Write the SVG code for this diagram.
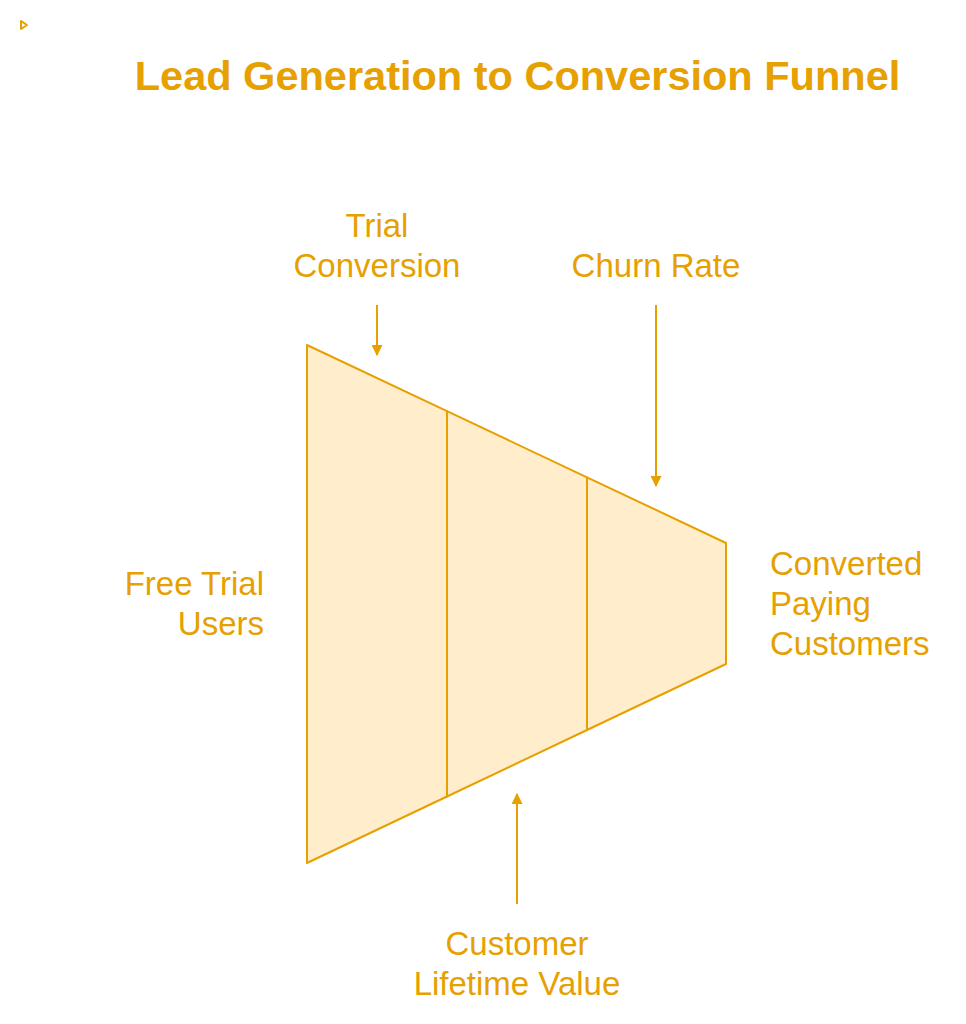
<svg xmlns="http://www.w3.org/2000/svg" width="966" height="1024" viewBox="0 0 966 1024">
<style>
.t{font-family:"Liberation Sans",Arial,sans-serif;fill:#E6A000}
.title{font-size:41.5px;font-weight:bold}
.lbl{font-size:33px}
.seg{fill:#FFEDCC;stroke:#E6A000;stroke-width:2;stroke-linejoin:round}
.conn{stroke:#E6A000;stroke-width:2;fill:none}
</style>
<defs>
<marker id="ah" viewBox="0 0 10 10" refX="9" refY="5" markerWidth="5.5" markerHeight="5.5" orient="auto" markerUnits="strokeWidth">
<path d="M0,0 L10,5 L0,10 Z" fill="#E6A000"/>
</marker>
</defs>
<rect width="966" height="1024" fill="#FFFFFF"/>
<g id="icon"><path d="M21,21 L27,25 L21,29 Z" fill="none" stroke="#E6A000" stroke-width="2" stroke-linejoin="round"/></g>
<text class="t title" x="517.5" y="90" text-anchor="middle">Lead Generation to Conversion Funnel</text>
<g id="funnel">
<g id="seg1"><polygon class="seg" points="307,345 447,411.2 447,796.5 307,863"/></g>
<g id="seg2"><polygon class="seg" points="447,411.2 587,477.3 587,730 447,796.5"/></g>
<g id="seg3"><polygon class="seg" points="587,477.3 726,543 726,664 587,730"/></g>
</g>
<g id="connectors">
<line class="conn" x1="377" y1="305" x2="377" y2="355" marker-end="url(#ah)"/>
<line class="conn" x1="656" y1="305" x2="656" y2="486" marker-end="url(#ah)"/>
<line class="conn" x1="517" y1="904" x2="517" y2="794" marker-end="url(#ah)"/>
</g>
<g id="label-trial"><text class="t lbl" text-anchor="middle"><tspan x="377" y="237">Trial</tspan><tspan x="377" y="277">Conversion</tspan></text></g>
<g id="label-churn"><text class="t lbl" x="656" y="277" text-anchor="middle">Churn Rate</text></g>
<g id="label-free"><text class="t lbl" text-anchor="end"><tspan x="264" y="595">Free Trial</tspan><tspan x="264" y="635">Users</tspan></text></g>
<g id="label-converted"><text class="t lbl"><tspan x="770" y="575">Converted</tspan><tspan x="770" y="615">Paying</tspan><tspan x="770" y="655">Customers</tspan></text></g>
<g id="label-clv"><text class="t lbl" text-anchor="middle"><tspan x="517" y="955">Customer</tspan><tspan x="517" y="995">Lifetime Value</tspan></text></g>
</svg>
